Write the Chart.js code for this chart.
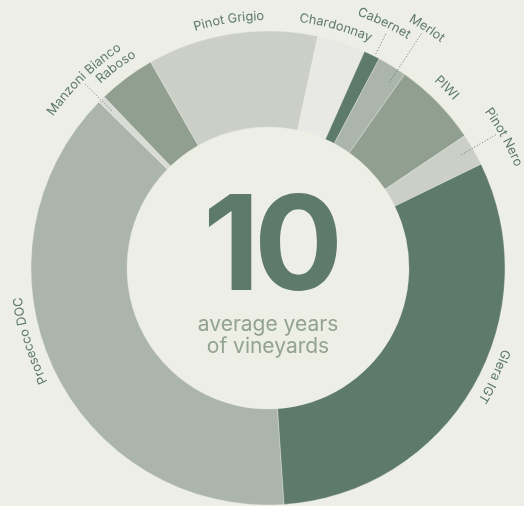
<!DOCTYPE html>
<html>
<head>
<meta charset="utf-8">
<script src="https://cdn.jsdelivr.net/npm/chart.js@4.4.1/dist/chart.umd.min.js"></script>
<style>
  html, body { margin: 0; padding: 0; background: #edeee6; }
  #wrap { width: 524px; height: 506px; }
</style>
</head>
<body>
<div id="wrap"><canvas id="vineyards"></canvas></div>
<script>
// varieties, clockwise starting at the bottom
const varieties = ["Prosecco DOC", "Manzoni Bianco", "Raboso", "Pinot Grigio", "Chardonnay",
  "Cabernet", "Merlot", "PIWI", "Pinot Nero", "Glera IGT"];
const shares = [38.4, 0.5, 3.9, 11.6, 3.3, 1.1, 2.0, 5.8, 2.2, 31.1];
const colors = ["#abb5ac", "#d9dbd6", "#919f90", "#cbcfc7", "#e8e9e5",
  "#5e7a6b", "#abb5ac", "#919f90", "#cbcfc7", "#5e7a6b"];
const centerValue = "10";
const centerLines = ["average years", "of vineyards"];

// label placement: baseline radius, angle nudge (deg), optional dotted leader [from r, to r, nudge]
const labelLayout = [
  { r: 248, nudge: 7.7 },
  { r: 263, nudge: 0.3, leader: [222, 261, -0.2] },
  { r: 249, nudge: -0.4 },
  { r: 248, nudge: -0.2 },
  { r: 248, nudge: -2.4 },
  { r: 268, nudge: -0.6, leader: [240, 262, 0.7] },
  { r: 284, nudge: 2.0, leader: [222, 280, 1.6] },
  { r: 250, nudge: -0.9 },
  { r: 267, nudge: 0.9, leader: [224, 264, -0.4] },
  { r: 248, nudge: -4.5 }
];

const TEXT = "#5e7a6b";

function curvedText(ctx, text, cx, cy, radius, midAngle) {
  // midAngle: radians clockwise from top, letters upright facing outward
  const total = ctx.measureText(text).width;
  let a = midAngle - total / (2 * radius);
  for (const ch of text) {
    const w = ctx.measureText(ch).width;
    const ca = a + w / (2 * radius);
    ctx.save();
    ctx.translate(cx, cy);
    ctx.rotate(ca);
    ctx.fillText(ch, 0, -radius);
    ctx.restore();
    a += w / radius;
  }
}

const labelPlugin = {
  id: "arcLabels",
  afterDatasetsDraw(chart) {
    const ctx = chart.ctx;
    const arcs = chart.getDatasetMeta(0).data;
    ctx.save();
    ctx.fillStyle = TEXT;
    ctx.font = "12.8px Inter";
    ctx.textAlign = "center";
    ctx.textBaseline = "alphabetic";
    arcs.forEach((arc, i) => {
      const mid = (arc.startAngle + arc.endAngle) / 2 + Math.PI / 2;
      const lay = labelLayout[i];
      const ang = mid + lay.nudge * Math.PI / 180;
      curvedText(ctx, varieties[i], arc.x, arc.y, lay.r, ang);
      if (lay.leader) {
        const la = mid + lay.leader[2] * Math.PI / 180;
        ctx.save();
        ctx.strokeStyle = TEXT;
        ctx.lineWidth = 1;
        ctx.setLineDash([1, 2]);
        ctx.beginPath();
        ctx.moveTo(arc.x + Math.sin(la) * lay.leader[0], arc.y - Math.cos(la) * lay.leader[0]);
        ctx.lineTo(arc.x + Math.sin(la) * lay.leader[1], arc.y - Math.cos(la) * lay.leader[1]);
        ctx.stroke();
        ctx.restore();
      }
    });

    // centre text
    const cx = arcs[0].x;
    const cy = arcs[0].y;
    ctx.textAlign = "center";
    ctx.fillStyle = TEXT;
    ctx.font = "bold 132px Inter";
    ctx.letterSpacing = "-6px";
    ctx.fillText(centerValue, cx + 2, cy + 22);
    ctx.letterSpacing = "0px";
    ctx.fillStyle = "#93a392";
    ctx.font = "21px Inter";
    ctx.fillText(centerLines[0], cx, cy + 63);
    ctx.fillText(centerLines[1], cx, cy + 85);
    ctx.restore();
  }
};

new Chart(document.getElementById("vineyards"), {
  type: "doughnut",
  data: {
    labels: varieties,
    datasets: [{
      data: shares,
      backgroundColor: colors,
      borderColor: "rgba(237,238,230,0.35)",
      borderWidth: 1
    }]
  },
  options: {
    responsive: true,
    maintainAspectRatio: false,
    animation: false,
    rotation: 176.1,
    radius: 237,
    cutout: "59.5%",
    layout: { padding: { left: 12, top: 30, right: 0, bottom: 0 } },
    plugins: {
      legend: { display: false },
      tooltip: { enabled: false }
    }
  },
  plugins: [labelPlugin]
});
</script>
</body>
</html>
